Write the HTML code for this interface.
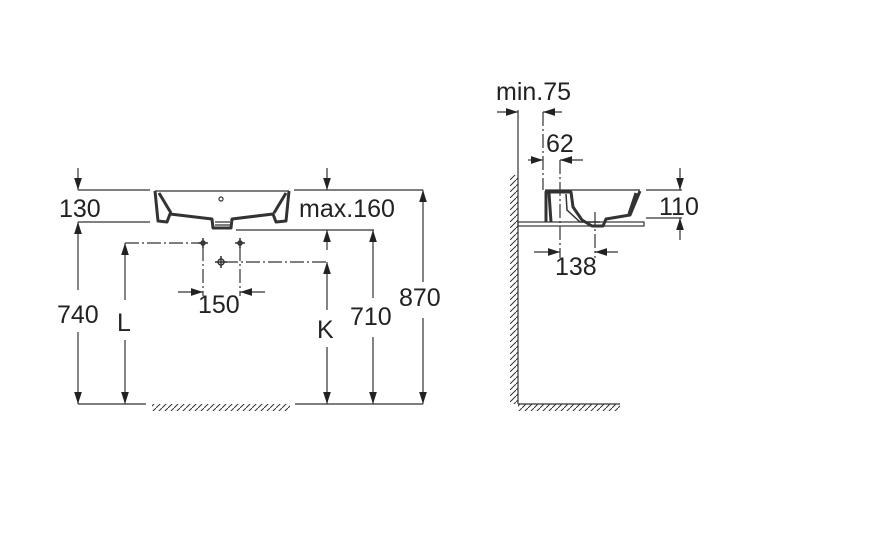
<!DOCTYPE html>
<html><head><style>body{margin:0;background:#fff}svg{display:block}text{font-family:"Liberation Sans",sans-serif;font-size:25px;fill:#222}</style></head><body>
<svg width="870" height="537" viewBox="0 0 870 537">
<defs>
<marker id="a" viewBox="0 0 10 10" refX="10" refY="5" markerWidth="12" markerHeight="12" orient="auto-start-reverse" markerUnits="userSpaceOnUse"><path d="M0,1.8 L10,5 L0,8.2 Z" fill="#222"/></marker>
<pattern id="h" width="6" height="6" patternUnits="userSpaceOnUse"><path d="M-1,7 L7,-1" stroke="#333" stroke-width="1"/></pattern>
</defs>
<g stroke="#333" stroke-width="1.2" fill="none">
<line x1="78" y1="190" x2="150" y2="190"/><line x1="294" y1="190" x2="423" y2="190"/>
<line x1="78" y1="222" x2="150" y2="222"/><line x1="236" y1="230" x2="374" y2="230"/>
<line x1="78" y1="404" x2="146" y2="404"/><line x1="295" y1="404" x2="423" y2="404"/>
<line x1="78" y1="168" x2="78" y2="190" marker-end="url(#a)"/>
<line x1="78" y1="290" x2="78" y2="222" marker-end="url(#a)"/>
<line x1="78" y1="332" x2="78" y2="404" marker-end="url(#a)"/>
<line x1="125" y1="300" x2="125" y2="243" marker-end="url(#a)"/>
<line x1="125" y1="340" x2="125" y2="404" marker-end="url(#a)"/>
<line x1="327" y1="168" x2="327" y2="190" marker-end="url(#a)"/>
<line x1="327" y1="250" x2="327" y2="230" marker-end="url(#a)"/>
<line x1="327" y1="310" x2="327" y2="262" marker-end="url(#a)"/>
<line x1="327" y1="347" x2="327" y2="404" marker-end="url(#a)"/>
<line x1="373" y1="298" x2="373" y2="230" marker-end="url(#a)"/>
<line x1="373" y1="337" x2="373" y2="404" marker-end="url(#a)"/>
<line x1="423" y1="282" x2="423" y2="190" marker-end="url(#a)"/>
<line x1="423" y1="318" x2="423" y2="404" marker-end="url(#a)"/>
<line x1="178" y1="292" x2="203" y2="292" marker-end="url(#a)"/>
<line x1="265" y1="292" x2="240" y2="292" marker-end="url(#a)"/>
<g stroke-dasharray="14,3,2,3">
<line x1="125" y1="243" x2="200" y2="243"/><line x1="224" y1="262" x2="327" y2="262"/>
<line x1="203" y1="247" x2="203" y2="296"/><line x1="240" y1="247" x2="240" y2="296"/>
</g>
<g stroke-width="1.5"><circle cx="203" cy="243" r="2"/><path d="M198,243h10M203,238v10"/><circle cx="240" cy="243" r="2"/><path d="M235,243h10M240,238v10"/><circle cx="221" cy="262" r="3"/><path d="M215,262h12M221,256v12"/></g>
<line x1="155" y1="191" x2="289" y2="191"/>
<circle cx="221" cy="199" r="2"/>
<path stroke-width="3" stroke-linejoin="round" d="M155,191 L158,221 L167,222 L170,214 L212,219 L213,228 L231,228 L232,219 L273,214 L276,222 L286,221 L289,191 M159,193 L171,213 M286,193 L274,213"/>
<path d="M215,222h15M215,225h15"/>
<rect x="152" y="404" width="138" height="7" fill="url(#h)" stroke="none"/>
<line x1="518" y1="110" x2="518" y2="404"/>
<line x1="518" y1="404" x2="620" y2="404"/>
<rect x="510" y="175" width="8" height="229" fill="url(#h)" stroke="none"/>
<rect x="518" y="404" width="102" height="7" fill="url(#h)" stroke="none"/>
<line x1="497" y1="112" x2="518" y2="112" marker-end="url(#a)"/>
<line x1="562" y1="112" x2="543" y2="112" marker-end="url(#a)"/>
<line x1="528" y1="160" x2="543" y2="160" marker-end="url(#a)"/>
<line x1="583" y1="160" x2="560" y2="160" marker-end="url(#a)"/>
<line x1="534" y1="252" x2="560" y2="252" marker-end="url(#a)"/>
<line x1="618" y1="252" x2="595" y2="252" marker-end="url(#a)"/>
<line x1="646" y1="190" x2="682" y2="190"/><line x1="646" y1="218" x2="682" y2="218"/>
<line x1="680" y1="168" x2="680" y2="190" marker-end="url(#a)"/>
<line x1="680" y1="240" x2="680" y2="218" marker-end="url(#a)"/>
<g stroke-dasharray="14,3,2,3"><line x1="543" y1="112" x2="543" y2="190"/><line x1="560" y1="160" x2="560" y2="258"/><line x1="595" y1="212" x2="595" y2="258"/></g>
<rect x="518" y="222" width="126" height="4"/>
<line x1="545" y1="190" x2="640" y2="190"/>
<path stroke-width="3" stroke-linejoin="round" d="M546,222 L546,192 L571,192 L573,207 L582,220 L592,226 L603,226 L606,219 L630,215 L640,191 M549,193 L551,222 M629,214 L636,193"/>
<path stroke-width="1.5" d="M566,194 L567,210 L580,222 L600,222"/>
</g>
<text x="59" y="217">130</text>
<text x="299" y="217">max.160</text>
<text x="57" y="323">740</text>
<text x="117" y="331">L</text>
<text x="198" y="313">150</text>
<text x="317" y="338">K</text>
<text x="350" y="325">710</text>
<text x="399" y="306">870</text>
<text x="496" y="100">min.75</text>
<text x="546" y="152">62</text>
<text x="659" y="215">110</text>
<text x="555" y="275">138</text>
</svg>
</body></html>
